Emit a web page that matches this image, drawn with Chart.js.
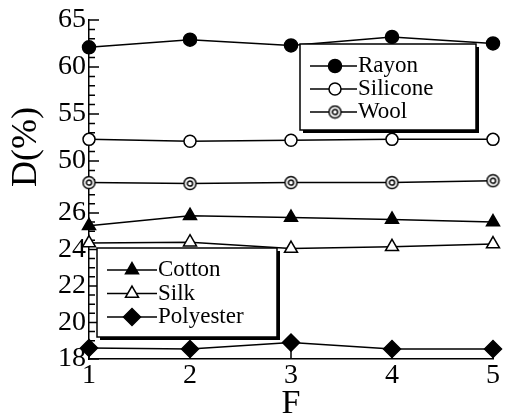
<!DOCTYPE html>
<html>
<head>
<meta charset="utf-8">
<script src="https://cdn.jsdelivr.net/npm/chart.js@4.4.0/dist/chart.umd.min.js"></script>
<style>
  html, body { margin: 0; padding: 0; background: #fff; }
  canvas { display: block; }
</style>
</head>
<body>
<canvas id="myChart" width="508" height="419"></canvas>
<script>
// values
const categories = ["1", "2", "3", "4", "5"];
const rayon = [62.1, 62.9, 62.3, 63.2, 62.5];
const silicone = [52.3, 52.1, 52.2, 52.3, 52.3];
const wool = [47.7, 47.6, 47.7, 47.7, 47.9];
const cotton = [25.3, 25.85, 25.75, 25.65, 25.5];
const silk = [24.35, 24.4, 24.05, 24.15, 24.3];
const polyester = [18.6, 18.55, 18.9, 18.55, 18.55];
const yTickLabels = [18, 20, 22, 24, 26, 50, 55, 60, 65];

const SERIF = '"Liberation Serif", "Times New Roman", serif';

// broken y axis: the upper part (45-65) is squeezed on top of 18-27
function toAxis(v) {
  return v <= 30 ? v : 28.85 + (v - 50) * 0.515;
}

function bullseye() {
  const c = document.createElement("canvas");
  c.width = 15; c.height = 15;
  const g = c.getContext("2d");
  g.lineWidth = 1.5;
  g.strokeStyle = "#000";
  g.fillStyle = "#fff";
  g.beginPath(); g.arc(7.5, 7.5, 6, 0, Math.PI * 2); g.fill(); g.stroke();
  g.beginPath(); g.arc(7.5, 7.5, 2.6, 0, Math.PI * 2); g.stroke();
  return c;
}

function series(label, values, style, radius, fill) {
  return {
    label: label,
    data: values.map(toAxis),
    borderColor: "#000",
    borderWidth: 1.5,
    pointStyle: style,
    pointRadius: radius,
    pointBackgroundColor: fill,
    pointBorderColor: "#000",
    pointBorderWidth: 1.5,
    tension: 0,
    clip: false
  };
}

const axisTicks = {
  id: "axisTicks",
  beforeDatasetsDraw(chart) {
    const { ctx, chartArea: a, scales: { x, y } } = chart;
    ctx.save();
    ctx.strokeStyle = "#000";
    ctx.lineWidth = 1.5;
    ctx.beginPath();
    const mark = (v, len) => {
      const p = y.getPixelForValue(v);
      ctx.moveTo(a.left, p);
      ctx.lineTo(a.left + len, p);
    };
    for (let v = 18; v <= 27; v += 0.5) mark(v, v % 2 === 0 ? 10 : 6);
    for (let v = 48; v <= 65; v += 1) mark(toAxis(v), v % 5 === 0 ? 10 : 6);
    categories.forEach((c, i) => {
      const px = x.getPixelForValue(i);
      ctx.moveTo(px, a.bottom);
      ctx.lineTo(px, a.bottom - 10);
    });
    ctx.stroke();

    // y axis title
    ctx.fillStyle = "#000";
    ctx.font = "36px " + SERIF;
    ctx.textAlign = "center";
    ctx.textBaseline = "middle";
    ctx.translate(27, 147);
    ctx.rotate(-Math.PI / 2);
    ctx.fillText("D(%)", 0, 0);
    ctx.restore();
  }
};

const legendBoxes = [
  { x: 300, y: 44, w: 176, h: 86, first: 22, step: 23, lineEnd: 57, items: [0, 1, 2] },
  { x: 97, y: 248, w: 180, h: 89, first: 22, step: 23.5, lineEnd: 60, items: [3, 4, 5] }
];

const boxLegend = {
  id: "boxLegend",
  afterDatasetsDraw(chart) {
    const ctx = chart.ctx;
    legendBoxes.forEach(b => {
      ctx.save();
      ctx.fillStyle = "#000";
      ctx.fillRect(b.x + 3, b.y + 3, b.w, b.h);
      ctx.fillStyle = "#fff";
      ctx.fillRect(b.x, b.y, b.w, b.h);
      ctx.strokeStyle = "#000";
      ctx.lineWidth = 1.5;
      ctx.strokeRect(b.x, b.y, b.w, b.h);
      b.items.forEach((idx, k) => {
        const ds = chart.data.datasets[idx];
        const cy = b.y + b.first + k * b.step;
        ctx.strokeStyle = "#000";
        ctx.lineWidth = 1.5;
        ctx.beginPath();
        ctx.moveTo(b.x + 10, cy);
        ctx.lineTo(b.x + b.lineEnd, cy);
        ctx.stroke();
        ctx.fillStyle = ds.pointBackgroundColor;
        Chart.helpers.drawPoint(ctx, {
          pointStyle: ds.pointStyle, radius: ds.pointRadius, rotation: 0, borderWidth: 1.5
        }, b.x + 35, cy);
        ctx.fillStyle = "#000";
        ctx.font = "23px " + SERIF;
        ctx.textAlign = "left";
        ctx.textBaseline = "middle";
        ctx.fillText(ds.label, b.x + b.lineEnd + 1, cy);
      });
      ctx.restore();
    });
  }
};

const data = {
  labels: categories,
  datasets: [
    series("Rayon", rayon, "circle", 6.5, "#000"),
    series("Silicone", silicone, "circle", 6, "#fff"),
    series("Wool", wool, bullseye(), 6, "#fff"),
    series("Cotton", cotton, "triangle", 7.5, "#000"),
    series("Silk", silk, "triangle", 7.5, "#fff"),
    series("Polyester", polyester, "rectRot", 8.5, "#000")
  ]
};

const config = {
  type: "line",
  data: data,
  options: {
    responsive: false,
    animation: false,
    devicePixelRatio: 1,
    layout: { padding: { top: 20, right: 15, left: 0, bottom: 0 } },
    plugins: { legend: { display: false }, tooltip: { enabled: false } },
    scales: {
      x: {
        type: "category",
        offset: false,
        grid: { display: false, drawTicks: false },
        border: { display: true, color: "#000", width: 1.5 },
        ticks: { color: "#000", font: { family: SERIF, size: 28 }, padding: 0, maxRotation: 0, autoSkip: false },
        title: { display: true, text: "F", color: "#000", font: { family: SERIF, size: 34, lineHeight: 0.85 }, padding: 0 },
        afterFit(s) { s.height = 60; }
      },
      y: {
        type: "linear",
        min: 18,
        max: toAxis(65),
        grid: { display: false, drawTicks: false },
        border: { display: true, color: "#000", width: 1.5 },
        afterBuildTicks(s) { s.ticks = yTickLabels.map(v => ({ value: toAxis(v) })); },
        ticks: {
          color: "#000", font: { family: SERIF, size: 28 }, padding: 3, autoSkip: false,
          callback: (val, i) => yTickLabels[i]
        },
        afterFit(s) { s.width = 89; }
      }
    }
  },
  plugins: [axisTicks, boxLegend]
};

const ctx = document.getElementById("myChart").getContext("2d");
new Chart(ctx, config);
</script>
</body>
</html>
